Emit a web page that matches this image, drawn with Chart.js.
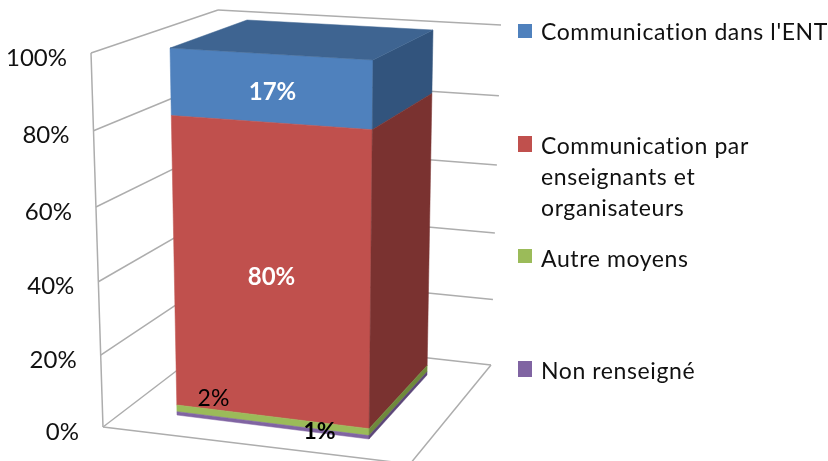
<!DOCTYPE html>
<html>
<head>
<meta charset="utf-8">
<style>
  html, body { margin: 0; padding: 0; background: #fff; }
  canvas { display: block; }
</style>
<script src="https://cdn.jsdelivr.net/npm/chart.js@4/dist/chart.umd.js"></script>
</head>
<body>
<canvas id="chart" width="828" height="461"></canvas>
<script>
// stacked from the floor upwards
const categories = [""];
const seriesNames = ["Non renseigné", "Autre moyens", "Communication par enseignants et organisateurs", "Communication dans l'ENT"];
const nonRenseigne = [1];
const autreMoyens = [2];
const parEnseignants = [80];
const dansEnt = [17];
const valueTexts = ["1%", "2%", "80%", "17%"];
const tickLabels = ["0%", "20%", "40%", "60%", "80%", "100%"];

const frontColors = ["#8064A2", "#9BBB59", "#C0504D", "#4F81BD"];
const sideColors = ["#5C4678", "#6F8A3C", "#7A3230", "#32547D"];
const topColor = "#3E6491";
const gridColor = "#ADADAD";
const FONT = "Lato, 'Noto Sans', sans-serif";

// fake 3D view, the bar's left front edge is the real chart area
const view = {
  rightTop: { dx: 0, dy: 12 }, rightBottom: { dx: -4, dy: 24 }, leftBottomDx: 7,
  backTopRight: [433, 30], backBottomRight: [427, 375], backTopLeft: [247, 20],
  wallFrontTop: [91, 53], wallFrontBottom: [103, 427],
  wallBackTop: [218, 10], wallBackBottom: [205, 349],
  backWallBottomLeft: [205, 333],
  backRightTop: [501, 25], backRightBottom: [491, 365],
  floorCorner: [410, 464],
};

const lerp = (a, b, t) => [a[0] + (b[0] - a[0]) * t, a[1] + (b[1] - a[1]) * t];
// perspective: things further up the wall get slightly bigger
const persp = (f, k) => f / (f + (1 - f) * k);

function poly(ctx, pts, color) {
  ctx.beginPath();
  pts.forEach((p, i) => (i ? ctx.lineTo(p[0], p[1]) : ctx.moveTo(p[0], p[1])));
  ctx.closePath();
  ctx.fillStyle = color;
  ctx.fill();
  ctx.strokeStyle = color;
  ctx.lineWidth = 0.5;
  ctx.stroke();
}

function line(ctx, a, b) {
  ctx.beginPath();
  ctx.moveTo(a[0], a[1]);
  ctx.lineTo(b[0], b[1]);
  ctx.stroke();
}

const walls3d = {
  id: "walls3d",
  beforeDatasetsDraw(chart) {
    const { ctx, scales: { y } } = chart;
    const area = chart.chartArea;
    ctx.save();
    ctx.strokeStyle = gridColor;
    ctx.lineWidth = 1.5;
    y.ticks.forEach((tick) => {
      const f = (area.bottom - y.getPixelForValue(tick.value)) / area.height;
      const t = persp(f, 1.05);
      const front = lerp(view.wallFrontBottom, view.wallFrontTop, t);
      const back = lerp(view.wallBackBottom, view.wallBackTop, t);
      const back2 = lerp(view.backWallBottomLeft, view.wallBackTop, t);
      const right = lerp(view.backRightBottom, view.backRightTop, t);
      line(ctx, front, back);
      line(ctx, back2, right);
      ctx.fillStyle = "#111";
      ctx.font = "24px " + FONT;
      ctx.textAlign = "right";
      ctx.textBaseline = "middle";
      ctx.fillText(tick.label, front[0] - 24, front[1] + 5);
    });
    line(ctx, view.wallFrontTop, view.wallFrontBottom);
    line(ctx, view.wallFrontBottom, view.floorCorner);
    line(ctx, view.floorCorner, view.backRightBottom);
    ctx.restore();
  },
  // the flat rectangle is replaced by the faces of the box
  beforeDatasetDraw(chart, args) {
    const { ctx } = chart;
    const area = chart.chartArea;
    const el = args.meta.data[0];
    const left = el.x - el.width / 2;
    const right = el.x + el.width / 2;
    const tl = [left, area.top];
    const bl = [left + view.leftBottomDx, area.bottom];
    const tr = [right + view.rightTop.dx, area.top + view.rightTop.dy];
    const br = [right + view.rightBottom.dx, area.bottom + view.rightBottom.dy];
    const at = (a, b, pix) => lerp(b, a, persp((area.bottom - pix) / area.height, 1.1));
    const i = args.index;
    poly(ctx, [at(tl, bl, el.y), at(tr, br, el.y), at(tr, br, el.base), at(tl, bl, el.base)], frontColors[i]);
    poly(ctx, [at(tr, br, el.y), at(view.backTopRight, view.backBottomRight, el.y),
      at(view.backTopRight, view.backBottomRight, el.base), at(tr, br, el.base)], sideColors[i]);
    if (i === chart.data.datasets.length - 1) {
      poly(ctx, [tl, tr, view.backTopRight, view.backTopLeft], topColor);
    }
    return false;
  },
  afterDatasetsDraw(chart) {
    const { ctx } = chart;
    const area = chart.chartArea;
    ctx.save();
    ctx.textAlign = "center";
    ctx.textBaseline = "middle";
    const styles = [
      { color: "#000", font: "bold 23px ", dx: 48, dy: 6 },
      { color: "#000", font: "23px ", dx: -58, dy: -21 },
      { color: "#fff", font: "bold 24px ", dx: 0, dy: 11 },
      { color: "#fff", font: "bold 24px ", dx: 1, dy: 7 },
    ];
    chart.data.datasets.forEach((ds, i) => {
      const el = chart.getDatasetMeta(i).data[0];
      const s = styles[i];
      const slant = view.rightTop.dy / 2 + (view.rightBottom.dy - view.rightTop.dy) / 2 * ((el.y + el.base) / 2 - area.top) / area.height;
      ctx.fillStyle = s.color;
      ctx.font = s.font + FONT;
      ctx.fillText(valueTexts[i], el.x + s.dx, (el.y + el.base) / 2 + slant + s.dy);
    });
    drawLegend(ctx);
    ctx.restore();
  },
};

function drawLegend(ctx) {
  const items = [
    { name: ["Communication dans l'ENT"], color: frontColors[3], box: [24, 14], base: [40] },
    { name: ["Communication par", "enseignants et", "organisateurs"], color: frontColors[2], box: [136, 16], base: [154, 185, 216] },
    { name: ["Autre moyens"], color: frontColors[1], box: [249, 14], base: [267] },
    { name: ["Non renseigné"], color: frontColors[0], box: [361, 16], base: [379] },
  ];
  ctx.font = "23px " + FONT;
  ctx.letterSpacing = "0.6px";
  ctx.textAlign = "left";
  ctx.textBaseline = "alphabetic";
  items.forEach((it) => {
    ctx.fillStyle = it.color;
    ctx.fillRect(518, it.box[0], 14, it.box[1]);
    ctx.fillStyle = "#111";
    it.name.forEach((txt, j) => ctx.fillText(txt, 541, it.base[j]));
  });
  ctx.letterSpacing = "0px";
}

new Chart(document.getElementById("chart"), {
  type: "bar",
  data: {
    labels: categories,
    datasets: [
      { label: seriesNames[0], data: nonRenseigne, backgroundColor: frontColors[0] },
      { label: seriesNames[1], data: autreMoyens, backgroundColor: frontColors[1] },
      { label: seriesNames[2], data: parEnseignants, backgroundColor: frontColors[2] },
      { label: seriesNames[3], data: dansEnt, backgroundColor: frontColors[3] },
    ],
  },
  options: {
    responsive: false,
    animation: false,
    layout: { padding: { left: 170, right: 828 - 373, top: 48, bottom: 461 - 415 } },
    plugins: { legend: { display: false }, tooltip: { enabled: false } },
    datasets: { bar: { barPercentage: 1, categoryPercentage: 1 } },
    scales: {
      x: { stacked: true, display: false },
      y: {
        stacked: true,
        display: false,
        min: 0,
        max: 100,
        ticks: { stepSize: 20, autoSkip: false, callback: (v) => tickLabels[v / 20] },
      },
    },
  },
  plugins: [walls3d],
});
</script>
</body>
</html>
